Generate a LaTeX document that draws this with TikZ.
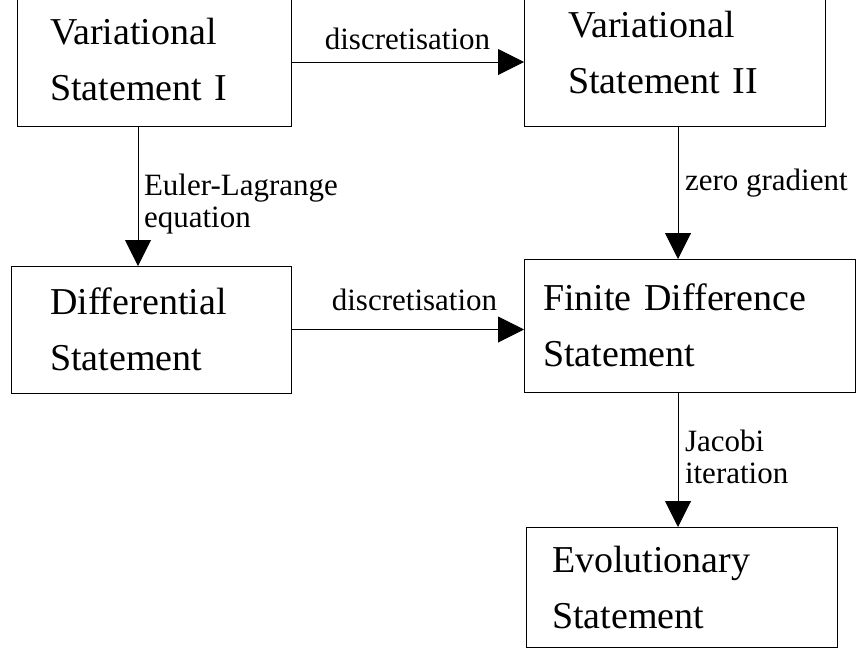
\documentclass[tikz,border=0pt]{standalone}
\usepackage{fontspec}
\setmainfont{Liberation Serif}
\usetikzlibrary{arrows.meta}

\begin{document}
\begin{tikzpicture}[x=1pt, y=-1pt,
    stmt/.style={draw, line width=1pt, anchor=north west, inner sep=0pt,
      outer sep=0pt, align=left, font=\fontsize{38}{56}\selectfont},
    lbl/.style={inner sep=0pt, outer sep=0pt, align=left,
      font=\fontsize{31}{32}\selectfont},
    flow/.style={line width=1pt, -{Triangle[length=26pt, width=26pt]}}]
    % Page
    \useasboundingbox
      (0,0) rectangle (857,651);
    \clip
      (0,0) rectangle (857,651);

    % Statements
    \node[stmt, minimum width=274pt, minimum height=134pt, text width=208pt]
      (vs1) at (17,-8) {Variational\\Statement I};
    \node[stmt, minimum width=301pt, minimum height=148pt, text width=213pt]
      (vs2) at (524,-22) {Variational\\Statement II};
    \node[stmt, minimum width=280pt, minimum height=127pt, text width=202pt]
      (diff) at (11,266) {Differential\\Statement};
    \node[stmt, minimum width=331pt, minimum height=133pt, text width=293pt]
      (fd) at (524,259) {Finite Difference\\Statement};
    \node[stmt, minimum width=311pt, minimum height=120pt, text width=259pt]
      (evo) at (526,527) {Evolutionary\\Statement};

    % Horizontal steps
    \draw[flow]
      ([yshift=-3pt]vs1.east) coordinate (d1) -- (d1 -| vs2.west)
      node[lbl, midway, above=12pt] {discretisation};
    \draw[flow]
      (diff.east) -- (diff.east -| fd.west)
      node[lbl, midway, above=19pt, xshift=7pt] {discretisation};

    % Vertical steps
    \draw[flow]
      ([xshift=-16pt]vs1.south) coordinate (el) -- (el |- diff.north)
      node[lbl, pos=0.56, right=6pt] {Euler-Lagrange\\equation};
    \draw[flow]
      ([xshift=3.5pt]vs2.south) coordinate (zg) -- (zg |- fd.north)
      node[lbl, pos=0.43, right=7pt] {zero gradient};
    \draw[flow]
      ([xshift=-11.5pt]fd.south) coordinate (ji) -- (ji |- evo.north)
      node[lbl, pos=0.48, right=7pt] {Jacobi\\iteration};
  \end{tikzpicture}
\end{document}
